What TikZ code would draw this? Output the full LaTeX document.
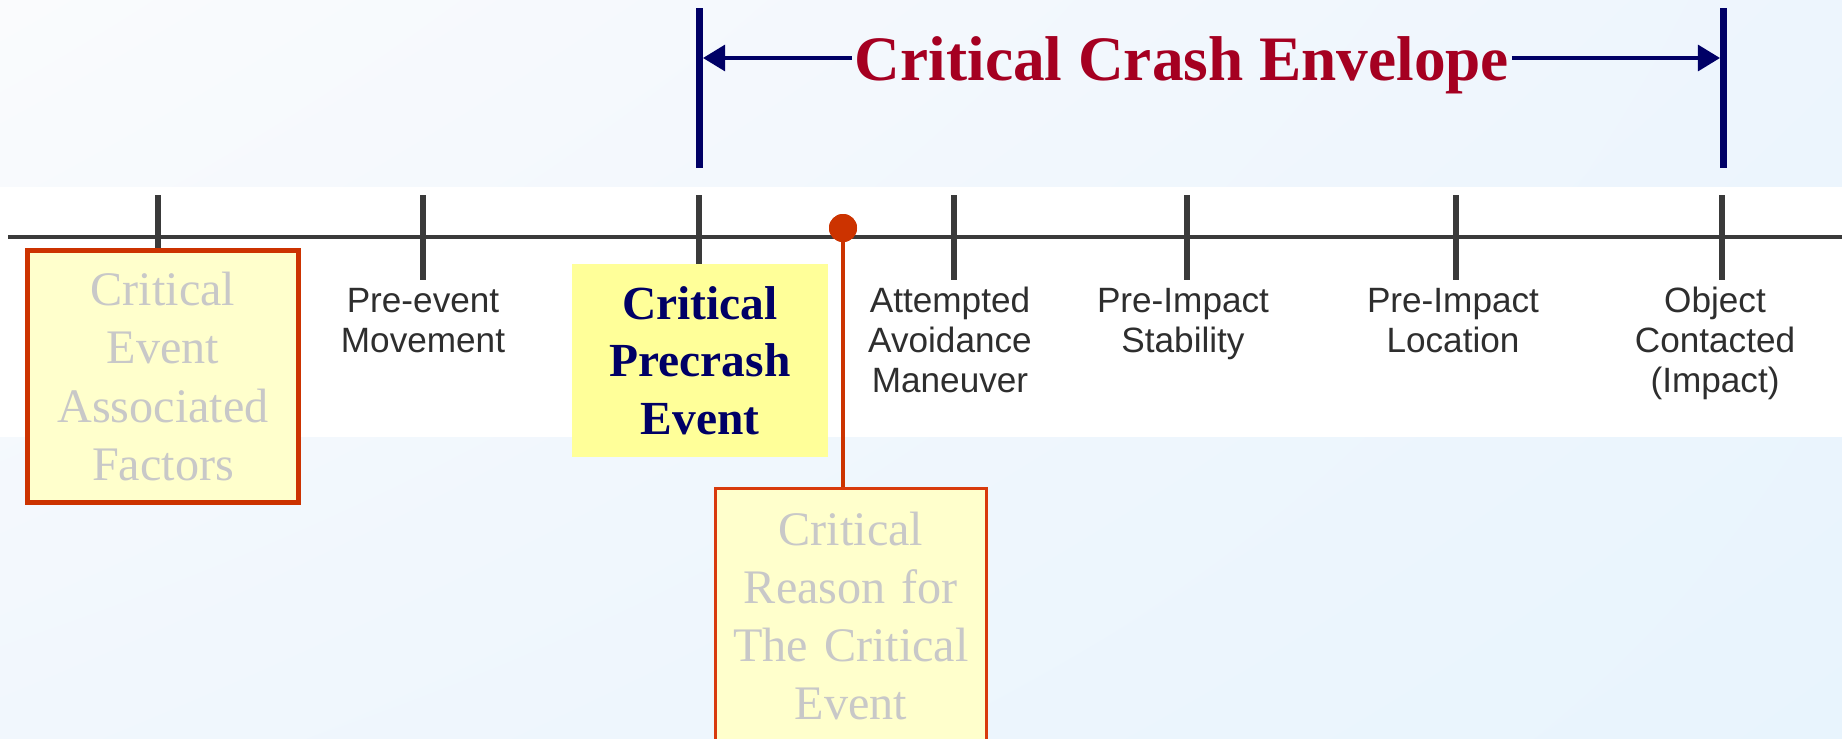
\documentclass[tikz,border=0pt]{standalone}
\usepackage{fontspec}
\setmainfont{Liberation Serif}
\newfontfamily\arialfont{Liberation Sans}
\usetikzlibrary{arrows.meta,shadings}
\definecolor{envnavy}{HTML}{000066}
\definecolor{envred}{HTML}{A50021}
\definecolor{boxred}{HTML}{CC3300}
\definecolor{lineorange}{HTML}{D83A0C}
\definecolor{paleyellow}{HTML}{FFFFCC}
\definecolor{brightyellow}{HTML}{FFFF99}
\definecolor{fadegray}{HTML}{C8C8C8}
\definecolor{axisgray}{HTML}{3A3A3A}
\definecolor{labelgray}{HTML}{2E2E2E}
\definecolor{bgtl}{HTML}{FAFBFD}
\definecolor{bgtr}{HTML}{EDF5FD}
\definecolor{bgbl}{HTML}{F1F7FD}
\definecolor{bgbr}{HTML}{E8F4FD}

\begin{document}
\begin{tikzpicture}[x=0.01cm, y=-0.01cm,
            tick/.style={axisgray, line width=1.7pt},
            bar/.style={envnavy, line width=2pt},
            envarrow/.style={envnavy, line width=1pt, -{Triangle[length=6.3pt, width=7.4pt]}, shorten >=1pt},
            phase/.style={font=\arialfont\fontsize{10}{11.4}\selectfont, text=labelgray, text width=2cm, align=center, anchor=base, inner sep=0pt},
            factorbox/.style={draw=boxred, fill=paleyellow, text=fadegray, font=\fontsize{13.7}{16.5}\selectfont, text width=2.55cm, align=center, inner sep=0pt},
            keybox/.style={fill=brightyellow, text=envnavy, font=\bfseries\fontsize{13.5}{16.4}\selectfont, text width=2.4cm, align=center, inner sep=0pt},
            title/.style={text=envred, font=\bfseries\fontsize{18}{20}\selectfont, text height=0.44cm, text depth=0pt, inner xsep=0.6pt, inner ysep=0pt, anchor=base}]
            \useasboundingbox (0,0) rectangle (1842,738);
            \clip (0,0) rectangle (1842,738);
            \shade[upper left=bgtl, upper right=bgtr, lower left=bgbl, lower right=bgbr] (0,0) rectangle (1842,738);
            \fill[white] (0,187) rectangle (1842,437);

            \draw[axisgray, line width=1.3pt] (8,237) -- (1842,237);
            \foreach \x in {158,423,699,954,1187,1456,1722}
                \draw[tick] (\x,195) -- (\x,280);

            \coordinate (barLtop) at (699.5,8);
            \coordinate (barLbot) at (699.5,168);
            \coordinate (barRtop) at (1723.5,8);
            \coordinate (barRbot) at (1723.5,168);
            \draw[bar] (barLtop) -- (barLbot);
            \draw[bar] (barRtop) -- (barRbot);

            \node[title] (envelope) at (1182,80) {Critical Crash Envelope};
            \draw[envarrow] (envelope.west) -- (envelope.west -| barLtop);
            \draw[envarrow] (envelope.east) -- (envelope.east -| barRtop);

            \node[factorbox, line width=1.4pt, minimum width=2.71cm, minimum height=2.52cm] (factors) at (163,376.5) {Critical\\Event\\Associated\\Factors};
            \node[keybox, minimum width=2.56cm, minimum height=1.93cm] (precrash) at (700,360.5) {Critical\\Precrash\\Event};
            \node[factorbox, draw=lineorange, line width=0.85pt, minimum width=2.71cm, minimum height=2.55cm] (reason) at (851,616) {Critical\\Reason for\\The Critical\\Event};

            \node[circle, fill=boxred, minimum size=0.28cm, inner sep=0pt] (critpoint) at (843,228) {};
            \draw[boxred, line width=1.4pt] (critpoint.center) -- (critpoint |- reason.north);
            \fill[boxred] (critpoint) circle (14);

            \node[phase] (movement) at (423,312) {Pre-event\\Movement};
            \node[phase] (avoidance) at (950,312) {Attempted\\Avoidance\\Maneuver};
            \node[phase] (stability) at (1183,312) {Pre-Impact\\Stability};
            \node[phase] (location) at (1453,312) {Pre-Impact\\Location};
            \node[phase] (impact) at (1715,312) {Object\\Contacted\\(Impact)};
\end{tikzpicture}
\end{document}
